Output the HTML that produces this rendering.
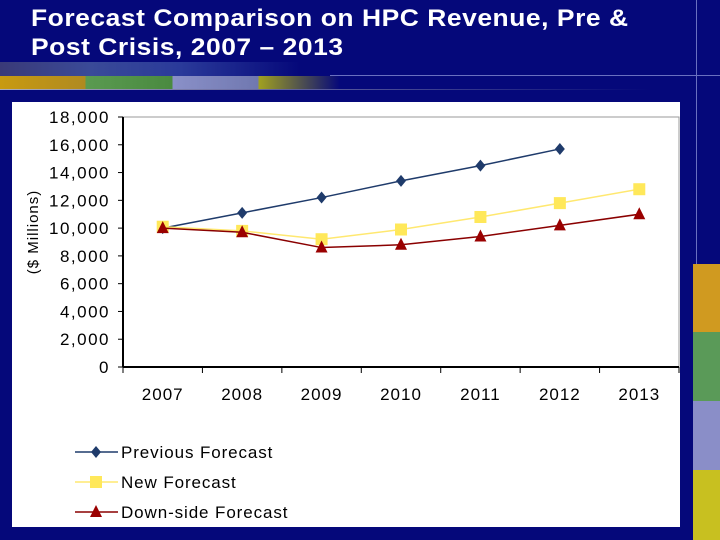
<!DOCTYPE html>
<html><head><meta charset="utf-8"><style>
body{margin:0;width:720px;height:540px;overflow:hidden;background:#05087a;font-family:"Liberation Sans",sans-serif;position:relative}
.title{position:absolute;left:31px;top:4px;color:#fff;font-size:24px;font-weight:bold;line-height:29px;letter-spacing:0.5px;transform:scaleX(1.1);transform-origin:0 0}
.s{position:absolute}
</style></head><body>
<div class="title">Forecast Comparison on HPC Revenue, Pre &amp;<br>Post Crisis, 2007 – 2013</div>
<div class="s" style="left:0;top:62px;width:300px;height:14px;background:linear-gradient(90deg,#3a3a78,#3a4a98 30%,#2a3a9a 60%,#05087a)"></div>
<div class="s" style="left:0;top:76px;width:720px;height:13px;background:linear-gradient(90deg,#c89a10 0,#b08a20 85px,#5a9a50 86px,#4a8a40 172px,#8a90c8 173px,#7078b0 258px,#a0a020 259px,#05087a 340px)"></div>
<div class="s" style="left:0;top:89px;width:650px;height:1px;background:linear-gradient(90deg,#aab,#05087a)"></div>
<div class="s" style="left:330px;top:75px;width:390px;height:1px;background:#6a70c0"></div>
<div class="s" style="left:696px;top:0;width:1px;height:540px;background:#6a70c0"></div>
<div class="s" style="left:693px;top:264px;width:27px;height:68px;background:#d09a20"></div>
<div class="s" style="left:693px;top:332px;width:27px;height:69px;background:#5a9a58"></div>
<div class="s" style="left:693px;top:401px;width:27px;height:69px;background:#8a8ec8"></div>
<div class="s" style="left:693px;top:470px;width:27px;height:70px;background:#c8c020"></div>
<svg class="s" style="left:12px;top:102px" width="668" height="425" font-family="Liberation Sans, sans-serif">
<rect width="668" height="425" fill="#fff"/>
<g id="g"></g>
</svg>
<script>
const years=["2007","2008","2009","2010","2011","2012","2013"];
const prev=[10000,11100,12200,13400,14500,15700];
const newF=[10100,9800,9200,9900,10800,11800,12800];
const down=[10000,9700,8600,8800,9400,10200,11000];
const yTicks=[0,2000,4000,6000,8000,10000,12000,14000,16000,18000];
const NS="http://www.w3.org/2000/svg";
const g=document.getElementById('g');
const L=111,R=667,T=15,B=265;
const y=v=>B-(v/18000)*(B-T);
const x=i=>L+(i+0.5)*(R-L)/years.length;
function mk(t,a,p){const e=document.createElementNS(NS,t);for(const k in a)e.setAttribute(k,a[k]);(p||g).appendChild(e);return e;}
mk('rect',{x:L,y:T,width:R-L,height:B-T,fill:'none',stroke:'#999','stroke-width':1});
mk('line',{x1:L,y1:T,x2:L,y2:B,stroke:'#000','stroke-width':2});
mk('line',{x1:L,y1:B,x2:R,y2:B,stroke:'#000','stroke-width':2});
yTicks.forEach(v=>{
 mk('line',{x1:L-5,y1:y(v),x2:L,y2:y(v),stroke:'#000'});
 const t=mk('text',{x:L-13,y:y(v)+6,'text-anchor':'end','font-size':17,'letter-spacing':1.5,fill:'#000'});t.textContent=v.toLocaleString('en-US');
 
});
years.forEach((c,i)=>{
 const xe=L+i*(R-L)/years.length;
 mk('line',{x1:xe,y1:B,x2:xe,y2:B+6,stroke:'#000'});
 const t=mk('text',{x:x(i),y:B+33,'text-anchor':'middle','font-size':17,'letter-spacing':1});t.textContent=c;
 
});
mk('line',{x1:R,y1:B,x2:R,y2:B+6,stroke:'#000'});
const yt=mk('text',{x:26,y:(T+B)/2-10,'text-anchor':'middle','font-size':15,'letter-spacing':1,transform:`rotate(-90 26 ${(T+B)/2-10})`});yt.textContent='($ Millions)';

function marker(type,cx,cy,p){
 if(type==='d')return mk('polygon',{points:`${cx},${cy-6} ${cx+5},${cy} ${cx},${cy+6} ${cx-5},${cy}`,fill:'#1f3b6b'},p);
 if(type==='s')return mk('rect',{x:cx-6,y:cy-6,width:12,height:12,fill:'#ffe85a'},p);
 return mk('polygon',{points:`${cx},${cy-7} ${cx+6},${cy+5} ${cx-6},${cy+5}`,fill:'#9a0000'},p);
}
function series(data,color,type,name){
 const sg=mk('g',{});
 
 mk('polyline',{points:data.map((v,i)=>x(i)+','+y(v)).join(' '),fill:'none',stroke:color,'stroke-width':1.5},sg);
 data.forEach((v,i)=>marker(type,x(i),y(v),sg));
}
series(prev,'#1f3b6b','d','series-previous-forecast');
series(newF,'#ffe870','s','series-new-forecast');
series(down,'#8a0000','t','series-downside-forecast');
const leg=[['Previous Forecast','#1f3b6b','d'],['New Forecast','#ffe870','s'],['Down-side Forecast','#8a0000','t']];
leg.forEach((l,i)=>{
 const lg=mk('g',{});
 
 const ly=350+i*30;
 mk('line',{x1:63,y1:ly,x2:106,y2:ly,stroke:l[1],'stroke-width':1.5},lg);
 marker(l[2],84,ly,lg);
 const t=mk('text',{x:109,y:ly+6,'font-size':17,'letter-spacing':0.9},lg);t.textContent=l[0];
});
</script>
</body></html>
